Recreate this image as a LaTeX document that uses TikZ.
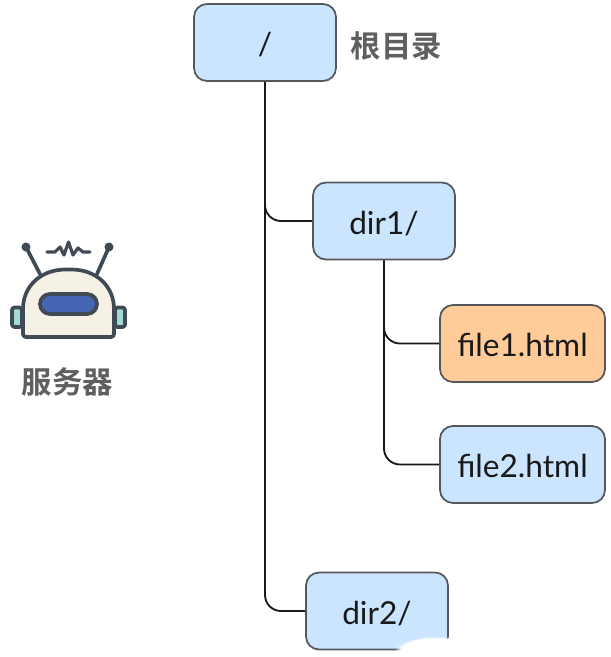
\documentclass[tikz,border=0pt]{standalone}
\usepackage{fontspec}
\setmainfont{Lato}
\newfontfamily\cjk{Noto Sans CJK SC}[BoldFont={* Bold}]
\usetikzlibrary{fadings}
\definecolor{dirblue}{HTML}{CCE5FF}
\definecolor{fileorange}{HTML}{FFCC99}
\definecolor{edgegray}{HTML}{54585C}
\definecolor{labelgray}{HTML}{5F5F5F}
\definecolor{botdark}{HTML}{3F4A54}
\definecolor{botbody}{HTML}{F6F1E5}
\definecolor{botvisor}{HTML}{4565B2}
\definecolor{botear}{HTML}{A3DAD6}

\begin{document}
\begin{tikzpicture}[x=0.02cm,y=-0.02cm,
		treebox/.style={draw=edgegray,line width=1pt,rounded corners=0.26cm,minimum width=2.84cm,minimum height=1.54cm,inner sep=0pt,text height=15.5pt,text depth=0.3pt,font=\fontsize{18}{22}\selectfont,text=black!90},
		dirbox/.style={treebox,fill=dirblue},
		filebox/.style={treebox,minimum width=3.3cm},
		treeline/.style={draw=black!90,line width=1.05pt,rounded corners=0.32cm},
		caption/.style={font=\cjk\bfseries\fontsize{17.3}{20}\selectfont,text=labelgray,inner sep=0pt},
		botline/.style={draw=botdark,line width=2.1pt,line cap=round,line join=round}]
		\useasboundingbox (0,0) rectangle (610,657);
		\node[dirbox] (root) at (265,42.5) {/};
		\node[dirbox] (dira) at (384,221) {dir1/};
		\node[filebox,fill=fileorange] (filea) at (522.5,343.5) {file1.html};
		\node[filebox,fill=dirblue] (fileb) at (522.5,464.5) {file2.html};
		\node[dirbox] (dirb) at (377,611) {dir2/};
		\node[caption] (rootlabel) at (396.5,46) {根目录};
		\node[caption] (botlabel) at (67.5,382) {服务器};
		\draw[treeline] (root.south) |- (dira.west);
		\draw[treeline] (root.south) |- (dirb.west);
		\draw[treeline] (dira.south) |- (filea.west);
		\draw[treeline] (dira.south) |- (fileb.west);
		\draw[botline] (26,247) -- (40,274);
		\draw[botline] (109,247) -- (97,274);
		\fill[botdark] (26,247) circle (4.5);
		\fill[botdark] (109,247) circle (4.5);
		\draw[botline,line width=1.8pt] (47,252) -- (55,252) -- (60,247) -- (64,255) -- (68.5,242) -- (73,255) -- (78,248) -- (83,252) -- (90,252);
		\draw[botline,fill=botear,rounded corners=0.05cm] (22,307.5) -- (12,307.5) -- (12,327) -- (22,327) -- cycle;
		\draw[botline,fill=botear,rounded corners=0.05cm] (115,307.5) -- (125,307.5) -- (125,327) -- (115,327) -- cycle;
		\draw[botline,fill=botbody,rounded corners=0.06cm] (23,337) -- (23,312) .. controls (23,286) and (41,269.5) .. (68.5,269.5) .. controls (96,269.5) and (114,286) .. (114,312) -- (114,337) -- cycle;
		\draw[botline,fill=botvisor,rounded corners=0.2cm] (40,294) rectangle (97,314);
		\fill[white,path fading=circle with fuzzy edge 15 percent] (436,652) ellipse (42 and 16);
	\end{tikzpicture}
\end{document}
